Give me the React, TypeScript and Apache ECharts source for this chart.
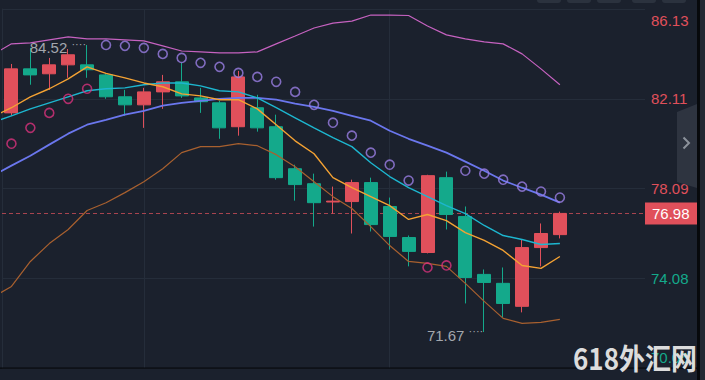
import React, { useEffect, useRef } from "react";
import * as echarts from "echarts";

// ---- data ----
// 30 bars followed by 4 empty future slots
const categories = [
  "c00", "c01", "c02", "c03", "c04", "c05", "c06", "c07", "c08", "c09",
  "c10", "c11", "c12", "c13", "c14", "c15", "c16", "c17", "c18", "c19",
  "c20", "c21", "c22", "c23", "c24", "c25", "c26", "c27", "c28", "c29",
  "c30", "c31", "c32", "c33",
];

const opens = [81.48, 83.45, 83.23, 83.63, 83.63, 83.18, 82.2, 81.84, 82.42, 82.87, 82.15, 81.93, 80.86, 81.71, 80.86, 78.98, 78.31, 77.49, 77.51, 78.36, 77.29, 75.9, 75.23, 78.58, 76.84, 74.25, 73.85, 72.82, 75.45, 76.03];
const closes = [83.45, 83.18, 83.63, 84.08, 83.41, 82.2, 81.84, 82.42, 82.87, 82.24, 81.98, 80.81, 83.09, 80.81, 78.58, 78.27, 77.46, 77.53, 78.36, 76.48, 75.95, 75.28, 78.67, 76.93, 74.11, 73.89, 72.95, 75.45, 76.08, 76.98];
const lows = [81.35, 82.74, 82.51, 83.05, 83.05, 82.11, 81.35, 80.81, 81.66, 82.15, 81.48, 80.32, 80.46, 80.64, 78.49, 77.55, 76.39, 76.97, 76.08, 76.17, 75.36, 74.61, 75.19, 76.26, 72.95, 71.67, 72.33, 72.55, 74.61, 75.86];
const highs = [83.67, 84.39, 83.94, 84.34, 84.52, 83.23, 82.51, 82.6, 83.18, 83.72, 82.6, 82.02, 83.36, 82.29, 81.4, 79.16, 78.76, 78.18, 78.49, 78.58, 77.69, 75.99, 78.71, 78.85, 77.29, 74.47, 74.56, 75.81, 76.53, 77.06];

// indicator lines: first value belongs to the bar just left of the visible range, then one per bar
const ma5 = [81.31, 81.71, 82.2, 82.56, 83.0, 83.54, 83.25, 83.05, 82.82, 82.65, 82.33, 82.24, 82.07, 82.07, 81.66, 80.95, 80.23, 79.65, 78.58, 78.13, 77.73, 77.33, 76.71, 76.93, 76.66, 76.12, 75.77, 75.32, 74.65, 74.52, 75.05];
const ma10 = [81.04, 81.35, 81.66, 81.93, 82.2, 82.47, 82.56, 82.6, 82.74, 82.82, 82.82, 82.69, 82.47, 82.42, 82.15, 81.71, 81.26, 80.81, 80.37, 79.97, 79.25, 78.63, 78.13, 77.73, 77.33, 76.97, 76.44, 75.99, 75.81, 75.59, 75.63];
const bollMid = [78.67, 79.12, 79.56, 80.06, 80.55, 80.95, 81.17, 81.4, 81.57, 81.8, 81.93, 82.02, 82.11, 82.15, 82.15, 82.07, 81.89, 81.75, 81.57, 81.35, 81.13, 80.68, 80.32, 80.01, 79.7, 79.3, 78.89, 78.45, 78.13, 77.82, 77.46];
const bollUpper = [84.08, 84.57, 84.61, 84.75, 84.88, 84.79, 84.79, 84.75, 84.7, 84.48, 84.25, 84.21, 84.17, 84.17, 84.21, 84.57, 84.92, 85.28, 85.5, 85.59, 85.86, 85.86, 85.84, 85.37, 84.97, 84.79, 84.66, 84.57, 84.12, 83.45, 82.74];
const bollLower = [73.22, 73.71, 74.83, 75.63, 76.26, 77.11, 77.46, 77.91, 78.4, 78.98, 79.7, 79.97, 79.97, 80.1, 80.01, 79.61, 79.07, 78.4, 77.73, 77.2, 76.39, 75.54, 74.83, 74.74, 74.61, 73.85, 73.04, 72.28, 72.06, 72.1, 72.24];

// parabolic SAR, one per bar (null = on the other side)
const sarAbove = [null, null, null, null, null, 84.52, 84.48, 84.39, 84.12, 83.94, 83.72, 83.54, 83.27, 83.09, 82.87, 82.42, 81.84, 81.04, 80.46, 79.7, 79.16, 78.45, null, null, 78.89, 78.76, 78.49, 78.18, 77.96, 77.69];
const sarBelow = [80.1, 80.81, 81.48, 82.11, 82.56, null, null, null, null, null, null, null, null, null, null, null, null, null, null, null, null, null, 74.56, 74.65, null, null, null, null, null, null];

const tickLabels = ["70.06", "74.08", "78.09", "82.11", "86.13"];

// ---- styling ----
const BG = "#1b212d";
const GRID = "#252d3a";
const RED = "#e0505b";
const GREEN = "#14a98b";
const FONT = "'Liberation Sans', Arial, sans-serif";

export default function App() {
  const ref = useRef<HTMLDivElement>(null);

  useEffect(() => {
    if (!ref.current) return;
    const chart = echarts.init(ref.current, undefined, { renderer: "svg" });

    const yMin = Number(tickLabels[0]);
    const yMax = Number(tickLabels[tickLabels.length - 1]);
    const yStep = (yMax - yMin) / (tickLabels.length - 1);
    const lastClose = closes[closes.length - 1];

    const kData: any[] = opens.map((o, i) => [o, closes[i], lows[i], highs[i]]);
    const nz = (a: (number | null)[]) => a.map((v) => (v == null ? "-" : v));

    let hi = 0;
    highs.forEach((h, i) => { if (h > highs[hi]) hi = i; });
    let lo = 0;
    lows.forEach((l, i) => { if (l < lows[lo]) lo = i; });

    const extremeLabel = (v: number) => ({
      show: true,
      position: "left",
      distance: 1,
      offset: [0, 3],
      formatter: `{v|${v.toFixed(2)}}{s| }{d|····}`,
      rich: {
        v: { color: "#a3a7ad", fontSize: 15, fontFamily: FONT },
        s: { fontSize: 15, fontFamily: FONT },
        d: { color: "#a3a7ad", fontSize: 11, fontFamily: FONT, padding: [0, 0, 8, 0] },
      },
    });

    // lines live on a hidden value x-axis whose unit = one bar; bar k is centred at k + 0.5,
    // the leading (off-screen) value sits at -0.5 and gets clipped by the grid
    const line = (data: number[], color: string, width: number) => ({
      type: "line",
      xAxisIndex: 1,
      data: data.map((v, i) => [i - 0.5, v]),
      symbol: "none",
      clip: true,
      z: 4,
      lineStyle: { color, width },
      silent: true,
    });

    const sar = (data: any[], color: string) => ({
      type: "scatter",
      data,
      symbol: "circle",
      symbolSize: 9,
      z: 5,
      itemStyle: { color: "rgba(0,0,0,0)", borderColor: color, borderWidth: 1.6 },
      silent: true,
    });

    const option: any = {
      animation: false,
      backgroundColor: BG,
      grid: { left: 2, right: 60, top: 9, bottom: 12 },
      xAxis: [
        {
          type: "category",
          data: categories,
          boundaryGap: true,
          axisLine: { show: false },
          axisTick: { show: false },
          axisLabel: { show: false },
          splitLine: { show: false },
        },
        {
          type: "value",
          min: 0,
          max: categories.length,
          show: false,
          splitLine: { show: false },
        },
      ],
      yAxis: {
        type: "value",
        position: "right",
        min: yMin,
        max: yMax,
        interval: yStep,
        axisLine: { show: true, lineStyle: { color: GRID } },
        axisTick: { show: false },
        splitLine: { show: true, lineStyle: { color: GRID, width: 1 } },
        axisLabel: {
          show: true,
          margin: 6,
          showMinLabel: true,
          showMaxLabel: true,
          formatter: (v: number) => {
            const k = Math.round((v - yMin) / yStep);
            const t = tickLabels[k];
            const up = Number(t) > lastClose;
            const key = (up ? "r" : "g") + (k === tickLabels.length - 1 ? "t" : k === 0 ? "b" : "");
            return `{${key}|${t}}`;
          },
          rich: {
            r: { color: RED, fontSize: 15, fontFamily: FONT },
            g: { color: GREEN, fontSize: 15, fontFamily: FONT },
            rt: { color: RED, fontSize: 15, fontFamily: FONT, padding: [22, 0, 0, 0] },
            rb: { color: RED, fontSize: 15, fontFamily: FONT, padding: [0, 0, 22, 0] },
            gt: { color: GREEN, fontSize: 15, fontFamily: FONT, padding: [22, 0, 0, 0] },
            gb: { color: GREEN, fontSize: 15, fontFamily: FONT, padding: [0, 0, 22, 0] },
          },
        },
      },
      series: [
        {
          type: "line",
          data: [],
          z: 1,
          silent: true,
          markLine: {
            silent: true,
            z: 1,
            symbol: ["none", "none"],
            data: [
              { xAxis: categories[7], lineStyle: { color: GRID, type: "solid", width: 1 }, label: { show: false } },
              { xAxis: categories[20], lineStyle: { color: GRID, type: "solid", width: 1 }, label: { show: false } },
              {
                yAxis: lastClose,
                lineStyle: { color: "#a8444f", type: [4, 3], width: 1 },
                label: {
                  show: true,
                  position: "end",
                  distance: 0,
                  formatter: lastClose.toFixed(2),
                  backgroundColor: RED,
                  color: "#ffffff",
                  fontSize: 15,
                  fontFamily: FONT,
                  lineHeight: 16,
                  padding: [3, 8, 3, 7],
                },
              },
            ],
          },
        },
        {
          type: "candlestick",
          data: kData,
          barWidth: 13.5,
          z: 3,
          silent: true,
          itemStyle: { color: RED, color0: GREEN, borderColor: RED, borderColor0: GREEN, borderWidth: 1 },
          markPoint: {
            symbol: "circle",
            symbolSize: 0,
            silent: true,
            itemStyle: { color: "rgba(0,0,0,0)" },
            data: [
              { coord: [categories[hi], highs[hi]], label: extremeLabel(highs[hi]) },
              { coord: [categories[lo], lows[lo]], label: extremeLabel(lows[lo]) },
            ],
          },
        },
        line(bollUpper, "#c662c0", 1.2),
        line(bollLower, "#a8602f", 1.2),
        line(bollMid, "#6b77ee", 1.8),
        line(ma10, "#1db6cf", 1.4),
        line(ma5, "#f4a233", 1.4),
        sar(nz(sarAbove), "#9a7ee4"),
        sar(nz(sarBelow), "#d8327c"),
      ],
      graphic: [
        ...[537, 567, 597, 632, 662].map((x) => ({
          type: "rect",
          shape: { x, y: -7, width: 24, height: 10, r: 3 },
          style: { fill: "#2b323e" },
          silent: true,
        })),
        { type: "rect", shape: { x: 0, y: 367.5, width: 697, height: 1.2 }, style: { fill: "#07090c" }, silent: true, z: 10 },
        { type: "rect", shape: { x: 697, y: 0, width: 3, height: 380 }, style: { fill: "#07090c" }, silent: true, z: 10 },
        { type: "rect", shape: { x: 700, y: 0, width: 5, height: 380 }, style: { fill: "#232833" }, silent: true, z: 10 },
        {
          type: "polygon",
          shape: { points: [[677, 112], [697, 104], [697, 188], [677, 182]] },
          style: { fill: "#2e3440" },
          silent: true,
          z: 10,
        },
        {
          type: "polyline",
          shape: { points: [[683.5, 137.5], [689, 143], [683.5, 148.5]] },
          style: { stroke: "#8c929b", lineWidth: 2, fill: "none" },
          silent: true,
          z: 11,
        },
        {
          type: "text",
          z: 100,
          silent: true,
          x: 697,
          y: 372,
          scaleY: 1.12,
          style: {
            x: 0,
            y: 0,
            text: "618外汇网",
            textAlign: "right",
            textVerticalAlign: "bottom",
            fill: "#dcdcdc",
            font: "bold 26px 'Noto Sans CJK SC', sans-serif",
          },
        },
      ],
    };

    chart.setOption(option);
    return () => chart.dispose();
  }, []);

  return (
    <div
      ref={ref}
      style={{ position: "fixed", left: 0, top: 0, width: 705, height: 380 }}
    />
  );
}
